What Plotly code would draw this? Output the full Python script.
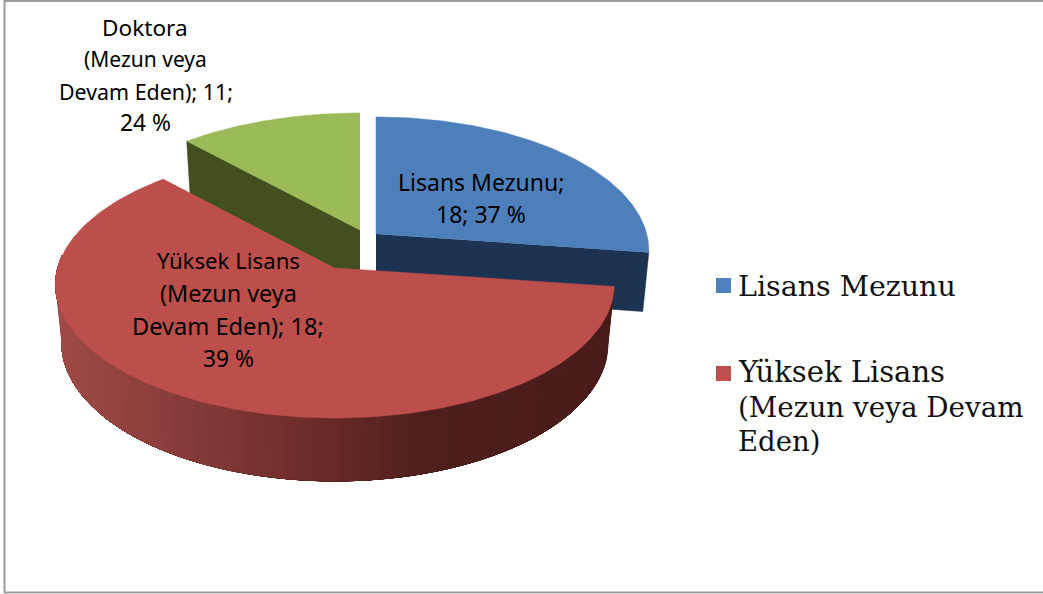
import math
import plotly.graph_objects as go

# --- chart content ---
categories = ["Lisans Mezunu", "Yüksek Lisans (Mezun veya Devam Eden)", "Doktora (Mezun veya Devam Eden)"]
counts = [18, 18, 11]
printed_percent = [37, 39, 24]
drawn_share = [27.2, 61.0, 11.8]   # slice sizes as actually drawn, in percent

top_colors = ["#4d7fbb", "#bc4f4c", "#9bbb59"]
wall_colors = ["#1d3352", None, "#434f1f"]
legend_colors = ["#4f81bd", "#c0504d"]

# --- 3D view (perspective pie) ---
D, F, G, H, DZ = 8.09, 2265.0, 1064.0, 484.0, 0.18
centres = [(376, 234), (335, 268), (360, 230)]
x_scale = [0.967, 0.99, 1.0]


def proj(i, theta, r=1.0, low=False):
    c = centres[i]
    X, Y = r * math.sin(theta) * x_scale[i], r * math.cos(theta)
    if low:
        w = D + Y + DZ
        return c[0] + F * X / w, c[1] + (-G * Y + H) / w
    w = D + Y
    return c[0] + F * X / w, c[1] - G * Y / w


def arc(a, b, n=120):
    return [a + (b - a) * i / n for i in range(n + 1)]


def poly(fig, pts, color):
    fig.add_trace(go.Scatter(
        x=[p[0] for p in pts], y=[p[1] for p in pts], mode="lines", fill="toself",
        fillcolor=color, line=dict(color=color, width=0.5),
        hoverinfo="skip", showlegend=False))


angles = []
a = 0.0
for s in drawn_share:
    angles.append((a, a + s / 100 * 2 * math.pi))
    a += s / 100 * 2 * math.pi

fig = go.Figure()

# green: wall then top
ga, gb = angles[2]
poly(fig, [proj(2, ga, 0), proj(2, ga), proj(2, ga, low=True), proj(2, ga, 0, low=True)], wall_colors[2])
poly(fig, [proj(2, ga, 0)] + [proj(2, t) for t in arc(ga, gb)], top_colors[2])

# blue: wall then top
ba, bb = angles[0]
poly(fig, [proj(0, bb, 0), proj(0, bb), proj(0, bb, low=True), proj(0, bb, 0, low=True)], wall_colors[0])
poly(fig, [proj(0, ba, 0)] + [proj(0, t) for t in arc(ba, bb)], top_colors[0])

# red: shaded outer wall (painted back to front so no seams show), then top
ra, rb = angles[1]
stops = [(0.0, (74, 28, 25)), (0.33, (78, 31, 28)), (0.52, (106, 43, 40)), (0.81, (138, 62, 59)), (1.0, (158, 74, 71))]


def shade(u):
    for (u0, c0), (u1, c1) in zip(stops, stops[1:]):
        if u <= u1:
            k = (u - u0) / (u1 - u0)
            return "rgb(%d,%d,%d)" % tuple(round(p + (q - p) * k) for p, q in zip(c0, c1))
    return "rgb(158,74,71)"


wall_end = 1.5 * math.pi + 0.1
N = 70
x_right = proj(1, ra)[0]
x_left = proj(1, wall_end)[0]
for i in range(N):
    t0 = ra + (wall_end - ra) * i / N
    u = (x_right - proj(1, t0)[0]) / (x_right - x_left)
    pts = [proj(1, t) for t in arc(t0, wall_end, 80)] + [proj(1, t, low=True) for t in arc(wall_end, t0, 80)]
    poly(fig, pts, shade(max(0.0, min(1.0, u))))
poly(fig, [proj(1, ra, 0)] + [proj(1, t) for t in arc(ra, rb, 240)], top_colors[1])

# legend squares
legend_y = [285.5, 373.5]
for col, y in zip(legend_colors, legend_y):
    fig.add_trace(go.Scatter(x=[723.5], y=[y], mode="markers", hoverinfo="skip", showlegend=False,
                             marker=dict(symbol="square", size=15, color=col, line=dict(width=0))))

LABEL = "Noto Sans"
SERIF = "DejaVu Serif"
label_lines = [
    ("Doktora", 145, 27, 22.6), ("(Mezun veya", 145, 59, 21), ("Devam Eden); %d;" % counts[2], 146, 91, 21.4),
    ("%d %%" % printed_percent[2], 145, 122, 22.8),
    ("Lisans Mezunu;", 481, 182, 23), ("%d; %d %%" % (counts[0], printed_percent[0]), 481, 214, 23),
    ("Yüksek Lisans", 228, 260, 22.2), ("(Mezun veya", 228, 293, 23.4), ("Devam Eden); %d;" % counts[1], 228, 326, 23.6),
    ("%d %%" % printed_percent[1], 228, 358, 22.8),
]
annotations = [dict(text=t, x=x, y=y, xref="x", yref="y", showarrow=False, xanchor="center", yanchor="middle",
                    font=dict(family=LABEL, size=s, color="#000000")) for t, x, y, s in label_lines]
legend_lines = [("Lisans Mezunu", 286, 28.5), ("Yüksek Lisans", 372, 29), ("(Mezun veya Devam", 407, 27.8), ("Eden)", 441, 27.5)]
annotations += [dict(text=t, x=736, y=y, xref="x", yref="y", showarrow=False, xanchor="left", yanchor="middle",
                     font=dict(family=SERIF, size=s, color="#111111")) for t, y, s in legend_lines]

frame = dict(color="#9a9a9a", width=2)
shapes = [
    dict(type="line", xref="x", yref="y", x0=4.5, x1=4.5, y0=0, y1=593, line=frame, layer="above"),
    dict(type="line", xref="x", yref="y", x0=4, x1=1043, y0=1, y1=1, line=frame, layer="above"),
    dict(type="line", xref="x", yref="y", x0=4, x1=1043, y0=592.5, y1=592.5, line=frame, layer="above"),
]

fig.update_layout(
    width=1043, height=594, autosize=False, margin=dict(l=0, r=0, t=0, b=0),
    paper_bgcolor="white", plot_bgcolor="white", showlegend=False,
    xaxis=dict(range=[0, 1043], visible=False, fixedrange=True),
    yaxis=dict(range=[594, 0], visible=False, fixedrange=True),
    annotations=annotations, shapes=shapes,
)
fig.write_html("out.html", config={"displayModeBar": False},
               post_script="document.body.style.margin='0';document.body.style.overflow='hidden';")
